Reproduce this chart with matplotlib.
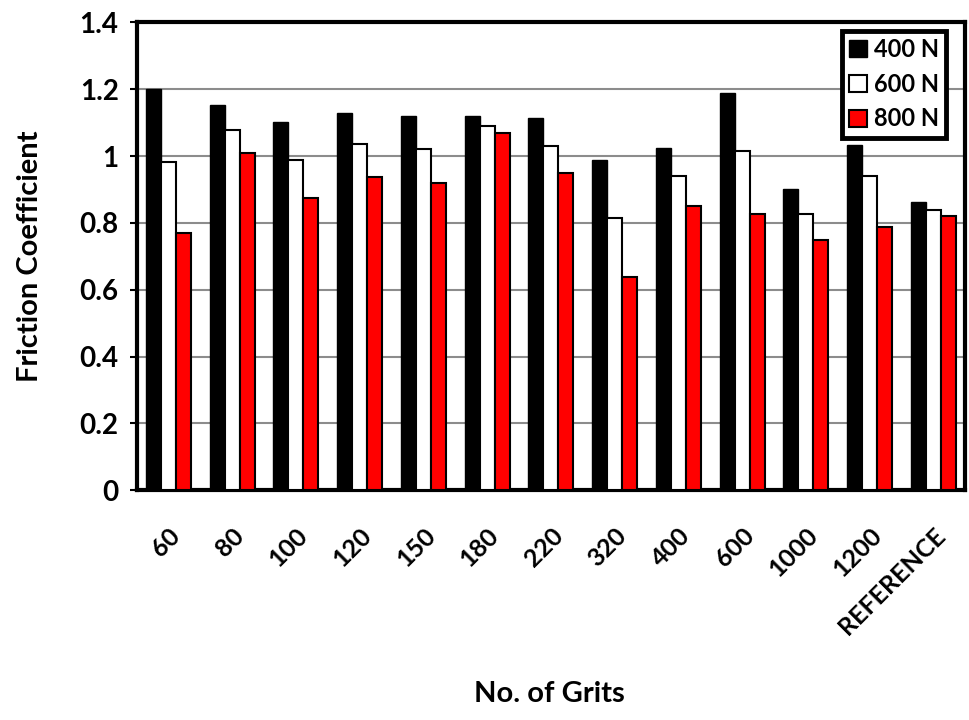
import numpy as np
import matplotlib.pyplot as plt

grits = ['60', '80', '100', '120', '150', '180', '220', '320', '400', '600', '1000', '1200', 'REFERENCE']
f400 = [1.20, 1.153, 1.102, 1.128, 1.121, 1.121, 1.113, 0.987, 1.025, 1.19, 0.902, 1.033, 0.862]
f600 = [0.982, 1.078, 0.989, 1.037, 1.021, 1.089, 1.031, 0.816, 0.939, 1.014, 0.827, 0.939, 0.839]
f800 = [0.77, 1.008, 0.875, 0.938, 0.919, 1.07, 0.95, 0.638, 0.85, 0.827, 0.75, 0.789, 0.82]

plt.rcParams['font.family'] = ['Lato', 'DejaVu Sans']
plt.rcParams['font.weight'] = 'bold'

fig = plt.figure(figsize=(9.69, 7.2), dpi=100)
ax = fig.add_axes([0.141, 0.319, 0.855, 0.65])

x = np.arange(len(grits))
w = 0.235
ax.bar(x - w, f400, w, color='black', edgecolor='black', linewidth=1, label='400 N', zorder=3)
ax.bar(x, f600, w, color='white', edgecolor='black', linewidth=1.5, label='600 N', zorder=3)
ax.bar(x + w, f800, w, color='red', edgecolor='black', linewidth=1.5, label='800 N', zorder=3)

ax.set_ylim(0, 1.4)
ax.set_xlim(-0.5, len(grits) - 0.5)
ax.set_yticks(np.arange(0, 1.41, 0.2))
ax.set_yticklabels(['0', '0.2', '0.4', '0.6', '0.8', '1', '1.2', '1.4'], fontsize=20, fontweight='bold')
ax.yaxis.grid(True, color='#8c8c8c', linewidth=1.5, zorder=0)
ax.set_axisbelow(True)

ax.set_xticks(x)
ax.set_xticklabels(grits, rotation=45, ha='right', rotation_mode='anchor', fontsize=18, fontweight='bold')
ax.tick_params(axis='x', length=0, pad=24)
ax.tick_params(axis='y', length=5, width=1.5, direction='out', pad=8)

for s in ax.spines.values():
    s.set_linewidth(3)

ax.set_ylabel('Friction Coefficient', fontsize=21, fontweight='bold', labelpad=26)
fig.text(0.567, 0.036, 'No. of Grits', ha='center', va='center', fontsize=21, fontweight='bold')

leg = ax.legend(loc='upper right', bbox_to_anchor=(0.977, 0.982), fontsize=17, frameon=True,
                fancybox=False, framealpha=1, handlelength=0.75, handleheight=0.75,
                handletextpad=0.3, borderaxespad=0, labelspacing=0.5, borderpad=0.3)
leg.get_frame().set_edgecolor('black')
leg.get_frame().set_linewidth(3.5)
for t in leg.get_texts():
    t.set_fontweight('bold')

plt.savefig('out.png', dpi=100)
